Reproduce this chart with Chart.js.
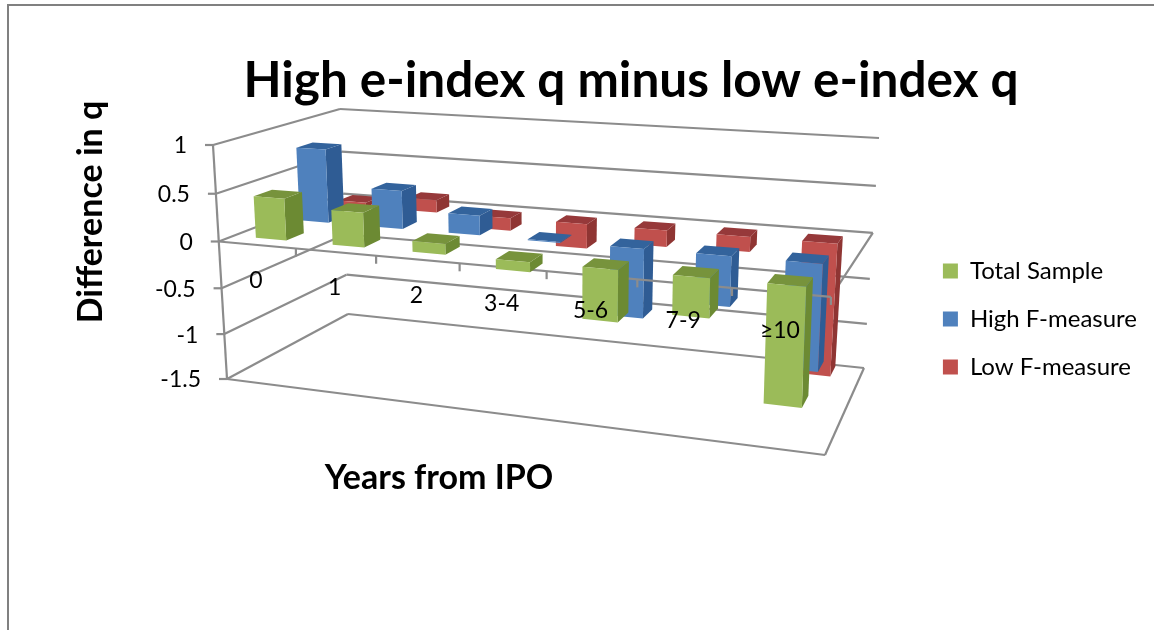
<!DOCTYPE html>
<html>
<head>
<meta charset="utf-8">
<title>High e-index q minus low e-index q</title>
<script src="https://cdn.jsdelivr.net/npm/chart.js@4"></script>
<style>
    html, body { margin: 0; padding: 0; background: #fff; overflow: hidden; }
    canvas { display: block; }
</style>
</head>
<body>
<canvas id="myChart" width="1154" height="630"></canvas>
<script>
const years = ['0', '1', '2', '3-4', '5-6', '7-9', '≥10']
const valueTicks = [1, 0.5, 0, -0.5, -1, -1.5]
const totalSample = [0.44, 0.36, 0.11, -0.10, -0.52, -0.39, -1.17]
const highF = [0.80, 0.41, 0.21, -0.01, -0.73, -0.52, -1.10]
const lowF = [0.05, 0.14, -0.14, -0.27, -0.18, -0.16, -1.43]

const fontName = 'Lato, "Open Sans", sans-serif'
const gridColor = '#8c8c8c'

// corners of the 3D box the chart sits in: front/back, left/right, bottom/top
const box = {
    flb: [227, 379], flt: [213, 145],
    frb: [825, 455], frt: [835, 186],
    blb: [348, 314], blt: [340, 109],
    brb: [864, 368], brt: [879, 138]
}

// face colours per dataset: front, side, top
const shades = [
    { front: '#9bbb59', side: '#6c8a33', top: '#77933c' },
    { front: '#4f81bd', side: '#2f5c94', top: '#33639c' },
    { front: '#c0504d', side: '#8f3533', top: '#96393a' }
]

const lerp = (a, b, t) => a + (b - a) * t
const lerp2 = (p, q, t) => [lerp(p[0], q[0], t), lerp(p[1], q[1], t)]
// foreshortening along one axis
const persp = (t, a) => a * t / (1 + (a - 1) * t)

// u along categories, w into the depth, v up the value axis, all 0..1
function project(u, w, v) {
    const uu = persp(u, 0.865)
    const ww = persp(w, 1.2)
    const vv = persp(v, 0.95)
    const front = lerp2(lerp2(box.flb, box.frb, uu), lerp2(box.flt, box.frt, uu), vv)
    const back = lerp2(lerp2(box.blb, box.brb, uu), lerp2(box.blt, box.brt, uu), vv)
    return lerp2(front, back, ww)
}

function polygon(ctx, points, color) {
    ctx.fillStyle = color
    ctx.beginPath()
    points.forEach((p, i) => i ? ctx.lineTo(p[0], p[1]) : ctx.moveTo(p[0], p[1]))
    ctx.closePath()
    ctx.fill()
}

function segment(ctx, a, b) {
    ctx.beginPath()
    ctx.moveTo(a[0], a[1])
    ctx.lineTo(b[0], b[1])
    ctx.stroke()
}

function label(ctx, text, x, y, font, align) {
    ctx.font = font
    ctx.fillStyle = '#000'
    ctx.textAlign = align || 'center'
    ctx.textBaseline = 'middle'
    ctx.fillText(text, x, y)
}

const bars3d = {
    id: 'bars3d',
    beforeDatasetsDraw(chart) {
        const ctx = chart.ctx
        const xs = chart.scales.x
        const ys = chart.scales.y
        const toV = value => (ys.bottom - ys.getPixelForValue(value)) / (ys.bottom - ys.top)
        const toU = px => (px - xs.left) / (xs.right - xs.left)
        const halfBar = (xs.right - xs.left) / years.length * 0.2
        const zero = toV(0)

        ctx.save()

        // page frame
        ctx.fillStyle = '#808080'
        ctx.fillRect(7, 4, 1147, 2)
        ctx.fillRect(7, 4, 2, 626)

        // walls and value gridlines
        ctx.strokeStyle = gridColor
        ctx.lineWidth = 2.2
        valueTicks.forEach(tick => {
            const v = toV(tick)
            const fl = project(0, 0, v)
            segment(ctx, fl, project(0, 1, v))
            segment(ctx, project(0, 1, v), project(1, 1, v))
            segment(ctx, [fl[0] - 8, fl[1]], fl)
        })
        segment(ctx, project(0, 0, 0), project(0, 0, 1))

        // floor outline and the zero plane edge on the right
        segment(ctx, project(0, 0, 0), project(1, 0, 0))
        segment(ctx, project(1, 0, 0), project(1, 1, 0))
        segment(ctx, project(1, 0, zero), project(1, 1, zero))

        const drawAxis = () => {
            ctx.strokeStyle = gridColor
            ctx.lineWidth = 2.2
            segment(ctx, project(0, 0, zero), project(1, 0, zero))
            years.forEach((y, i) => {
                const p = project((i + 1) / years.length, 0, zero)
                segment(ctx, p, [p[0], p[1] + 8])
            })
        }

        // back row first so the nearer rows cover it
        for (let s = chart.data.datasets.length - 1; s >= 0; s--) {
            if (s === 0) drawAxis()
            const w0 = (s + 0.3) / 3
            const w1 = (s + 0.7) / 3
            const colors = shades[s]
            chart.data.datasets[s].data.forEach((value, i) => {
                const cx = xs.getPixelForValue(i)
                const u0 = toU(cx - halfBar)
                const u1 = toU(cx + halfBar)
                const hi = Math.max(toV(value), zero)
                const lo = Math.min(toV(value), zero)
                polygon(ctx, [project(u1, w0, lo), project(u1, w1, lo), project(u1, w1, hi), project(u1, w0, hi)], colors.side)
                polygon(ctx, [project(u0, w0, hi), project(u1, w0, hi), project(u1, w1, hi), project(u0, w1, hi)], colors.top)
                polygon(ctx, [project(u0, w0, lo), project(u1, w0, lo), project(u1, w0, hi), project(u0, w0, hi)], colors.front)
            })
        }

        // tick labels and titles
        const tickFont = '23px ' + fontName
        valueTicks.forEach(tick => {
            const p = project(0, 0, toV(tick))
            label(ctx, String(tick), p[0] - 26, p[1] + 1, tickFont, 'right')
        })
        const labelY = [281, 288, 296, 304, 311, 321, 331]
        years.forEach((y, i) => {
            const p = project((i + 0.5) / years.length, 0, zero)
            label(ctx, y, p[0] - 1, labelY[i], tickFont)
        })
        label(ctx, 'High e-index q minus low e-index q', 631, 81, 'bold 49.5px ' + fontName)
        label(ctx, 'Years from IPO', 439, 478, 'bold 34px ' + fontName)
        ctx.translate(91, 212)
        ctx.rotate(-Math.PI / 2)
        label(ctx, 'Difference in q', 0, 0, 'bold 34px ' + fontName)

        ctx.restore()
        return false
    }
}

new Chart(document.getElementById('myChart'), {
    type: 'bar',
    data: {
        labels: years,
        datasets: [
            { label: 'Total Sample', data: totalSample, backgroundColor: shades[0].front },
            { label: 'High F-measure', data: highF, backgroundColor: shades[1].front },
            { label: 'Low F-measure', data: lowF, backgroundColor: shades[2].front }
        ]
    },
    options: {
        responsive: false,
        animation: false,
        layout: { padding: { top: 60, bottom: 52, left: 200, right: 7 } },
        scales: {
            x: { display: false },
            y: { display: false, min: -1.5, max: 1, ticks: { stepSize: 0.5 } }
        },
        plugins: {
            title: { display: false },
            tooltip: { enabled: false },
            legend: {
                position: 'right',
                labels: {
                    boxWidth: 15,
                    boxHeight: 15,
                    padding: 24,
                    color: '#000',
                    font: { family: fontName, size: 24 }
                }
            }
        }
    },
    plugins: [bars3d]
})
</script>
</body>
</html>
